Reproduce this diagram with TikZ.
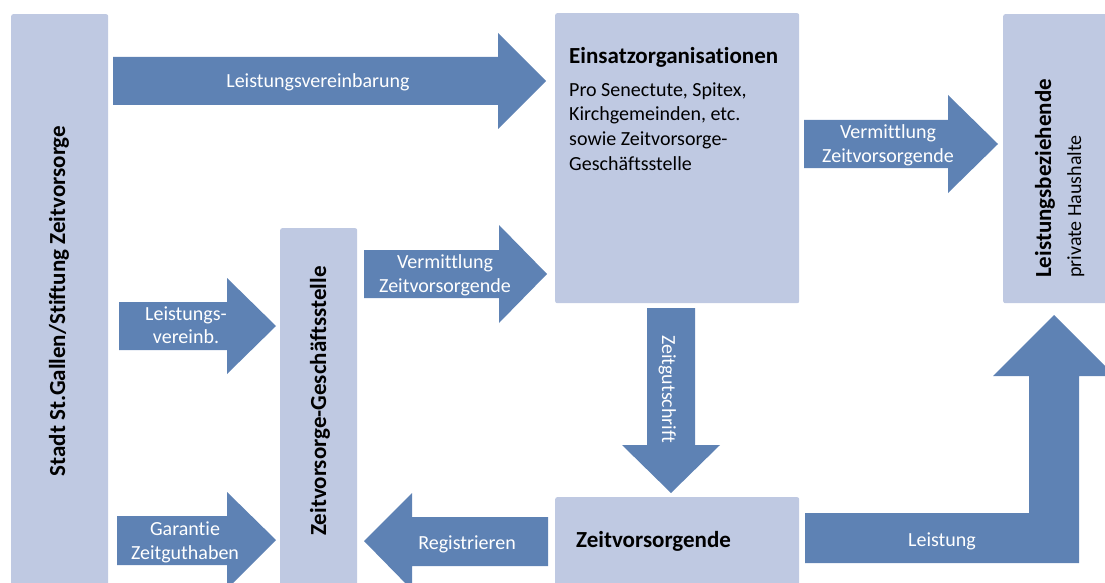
\documentclass[tikz,border=0pt]{standalone}
\usepackage{fontspec}
\setmainfont{Carlito}[Ligatures=NoCommon]
\definecolor{boxc}{RGB}{191,201,226}
\definecolor{arrc}{RGB}{94,130,180}
\begin{document}
\begin{tikzpicture}[x=1pt,y=-1pt,
  box/.style={fill=boxc, rounded corners=2pt, inner sep=0pt, anchor=north west},
  blockarrow/.style={fill=arrc},
  wt/.style={text=white, font=\fontsize{20}{24}\selectfont, inner sep=0pt, anchor=base},
  bt/.style={text=black, font=\bfseries\fontsize{23}{27}\selectfont, inner sep=0pt},
  rt/.style={text=black, font=\fontsize{20}{24}\selectfont, inner sep=0pt, anchor=base west}]
\useasboundingbox (0,0) rectangle (1105,583);
\clip (0,0) rectangle (1105,583);

% boxes
\node[box, minimum width=97pt, minimum height=580pt] (stadt) at (11,14) {};
\node[box, minimum width=77pt, minimum height=370pt] (zg) at (280,228) {};
\node[box, minimum width=244pt, minimum height=290pt] (einsatz) at (555,13) {};
\node[box, minimum width=110pt, minimum height=289pt] (lb) at (1003,14) {};
\node[box, minimum width=244pt, minimum height=100pt] (zv) at (555,497) {};

% block arrows
\fill[blockarrow] (113,57) -- (498,57) -- (498,33) -- (546,81) -- (498,129) -- (498,105) -- (113,105) -- cycle;
\fill[blockarrow] (364,250) -- (499,250) -- (499,225) -- (547,274) -- (499,323) -- (499,298) -- (364,298) -- cycle;
\fill[blockarrow] (804,120) -- (948,120) -- (948,95) -- (998,144) -- (948,193) -- (948,168) -- (804,168) -- cycle;
\fill[blockarrow] (119,302) -- (227,302) -- (227,278) -- (276,326) -- (227,374) -- (227,350) -- (119,350) -- cycle;
\fill[blockarrow] (117,516) -- (227,516) -- (227,492) -- (276,540) -- (227,589) -- (227,565) -- (117,565) -- cycle;
\fill[blockarrow] (548,517) -- (412,517) -- (412,493) -- (364,541) -- (412,590) -- (412,566) -- (548,566) -- cycle;
\fill[blockarrow] (647,308) -- (695,308) -- (695,445) -- (720,445) -- (671,493) -- (622,445) -- (647,445) -- cycle;
\fill[blockarrow] (805,513) -- (1029,513) -- (1029,376) -- (993,376) -- (1054,315) -- (1115,376) -- (1079,376) -- (1079,563) -- (805,563) -- cycle;

% box texts
\node[bt, rotate=90] (stadtT) at (59,301) {Stadt St.Gallen/Stiftung Zeitvorsorge};
\node[bt, rotate=90] (zgT) at (320,401) {Zeitvorsorge-Geschäftsstelle};
\node[bt, anchor=base west] (einsatzT) at (569,64) {Einsatzorganisationen};
\node[rt] (e1) at (569,96.5) {Pro Senectute, Spitex,};
\node[rt] (e2) at (569,121) {Kirchgemeinden, etc.};
\node[rt] (e3) at (569,145.5) {sowie Zeitvorsorge-};
\node[rt] (e4) at (569,170) {Geschäftsstelle};
\node[bt, anchor=base west] (zvT) at (576,547) {Zeitvorsorgende};
\node[bt, rotate=90, anchor=base west] (lbT) at (1051,278) {Leistungsbeziehende};
\node[rt, rotate=90] (lbS) at (1081,278) {private Haushalte};

% arrow texts
\node[wt] (a1) at (318,88) {Leistungsvereinbarung};
\node[wt] (a2a) at (445,268) {Vermittlung};
\node[wt] (a2b) at (445,292) {Zeitvorsorgende};
\node[wt] (a3a) at (888,139) {Vermittlung};
\node[wt] (a3b) at (888,162) {Zeitvorsorgende};
\node[wt] (a4a) at (186,320) {Leistungs-};
\node[wt] (a4b) at (186,343) {vereinb.};
\node[wt] (a5a) at (185,535) {Garantie};
\node[wt] (a5b) at (185,559) {Zeitguthaben};
\node[wt] (a6) at (467,549) {Registrieren};
\node[wt] (a8) at (942,546) {Leistung};
\node[wt, rotate=-90, anchor=base west] (a7) at (662,335) {Zeitgutschrift};
\end{tikzpicture}
\end{document}
